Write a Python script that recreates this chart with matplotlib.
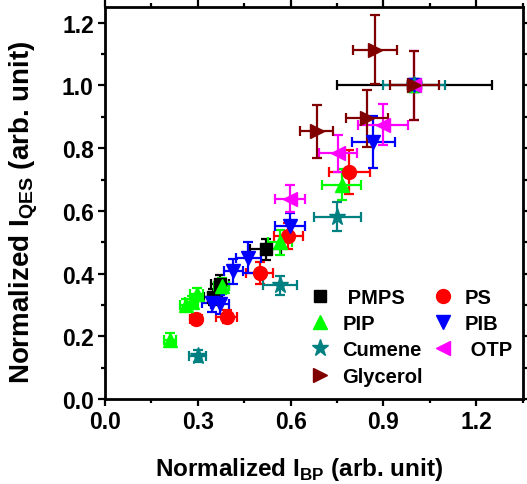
import matplotlib
matplotlib.use('Agg')
import matplotlib.pyplot as plt
from matplotlib.lines import Line2D
from matplotlib.ticker import MultipleLocator

plt.rcParams['font.family'] = ['Liberation Sans', 'DejaVu Sans']
plt.rcParams['font.weight'] = 'bold'
plt.rcParams['mathtext.fontset'] = 'custom'
plt.rcParams['mathtext.rm'] = 'Liberation Sans:bold'
plt.rcParams['mathtext.bf'] = 'Liberation Sans:bold'

# ------------------------------------------------------------------
# data: x, y, xerr, yerr per sample
pmps_x = [0.349, 0.372, 0.52, 1.0]
pmps_y = [0.325, 0.366, 0.477, 1.0]
pmps_xe = [0.03, 0.03, 0.05, 0.25]
pmps_ye = [0.025, 0.03, 0.035, 0.0]

ps_x = [0.294, 0.393, 0.50, 0.593, 0.79, 1.0]
ps_y = [0.255, 0.263, 0.403, 0.52, 0.723, 1.0]
ps_xe = [0.02, 0.033, 0.044, 0.048, 0.065, 0.02]
ps_ye = [0.015, 0.02, 0.035, 0.04, 0.07, 0.02]

pip_x = [0.21, 0.262, 0.28, 0.296, 0.377, 0.566, 0.765, 1.0]
pip_y = [0.19, 0.30, 0.31, 0.334, 0.36, 0.50, 0.684, 1.0]
pip_xe = [0.02, 0.02, 0.02, 0.02, 0.025, 0.04, 0.062, 0.02]
pip_ye = [0.02, 0.02, 0.02, 0.02, 0.025, 0.04, 0.05, 0.02]

pib_x = [0.345, 0.372, 0.415, 0.463, 0.598, 0.867, 1.0]
pib_y = [0.308, 0.302, 0.408, 0.451, 0.552, 0.82, 1.0]
pib_xe = [0.03, 0.03, 0.03, 0.04, 0.048, 0.07, 0.02]
pib_ye = [0.03, 0.03, 0.04, 0.05, 0.04, 0.082, 0.02]

cum_x = [0.30, 0.566, 0.751, 1.0]
cum_y = [0.138, 0.363, 0.581, 1.0]
cum_xe = [0.028, 0.055, 0.075, 0.10]
cum_ye = [0.02, 0.03, 0.046, 0.0]

otp_x = [0.598, 0.754, 0.899, 1.0]
otp_y = [0.639, 0.783, 0.875, 1.0]
otp_xe = [0.048, 0.062, 0.08, 0.02]
otp_ye = [0.043, 0.06, 0.066, 0.11]

gly_x = [0.684, 0.846, 0.873, 1.0]
gly_y = [0.854, 0.895, 1.113, 1.0]
gly_xe = [0.054, 0.068, 0.07, 0.08]
gly_ye = [0.085, 0.09, 0.11, 0.11]
# ------------------------------------------------------------------

fig = plt.figure(figsize=(5.27, 4.85), dpi=100)
ax = fig.add_axes([0.199, 0.175, 0.793, 0.8085])

series = [
    (pmps_x, pmps_y, pmps_xe, pmps_ye, 'black', 's', 9, ' PMPS'),
    (ps_x, ps_y, ps_xe, ps_ye, 'red', 'o', 10, 'PS'),
    (pip_x, pip_y, pip_xe, pip_ye, '#00ff00', '^', 10.5, 'PIP'),
    (pib_x, pib_y, pib_xe, pib_ye, 'blue', 'v', 10.5, 'PIB'),
    (cum_x, cum_y, cum_xe, cum_ye, '#008080', '*', 12.5, 'Cumene'),
    (otp_x, otp_y, otp_xe, otp_ye, 'magenta', '<', 10.5, ' OTP'),
    (gly_x, gly_y, gly_xe, gly_ye, '#800000', '>', 10.5, 'Glycerol'),
]

handles = {}
for x, y, xe, ye, c, m, ms, lab in series:
    ax.errorbar(x, y, xerr=xe, yerr=ye, fmt=m, color=c, ms=ms,
                elinewidth=1.6, capsize=3.5, capthick=1.6, mec=c)
    handles[lab] = Line2D([], [], ls='none', marker=m, color=c, ms=ms)

order = [' PMPS', 'PIP', 'Cumene', 'Glycerol', 'PS', 'PIB', ' OTP']
ax.legend([handles[k] for k in order], order, ncol=2, frameon=False,
          loc='lower right', bbox_to_anchor=(1.018, -0.012),
          fontsize=14.5, handlelength=1.0, handletextpad=0.6,
          columnspacing=0.5, labelspacing=0.36)

ax.set_xlim(0, 1.35)
ax.set_ylim(0, 1.25)
ax.xaxis.set_major_locator(MultipleLocator(0.3))
ax.xaxis.set_minor_locator(MultipleLocator(0.15))
ax.yaxis.set_major_locator(MultipleLocator(0.2))
ax.yaxis.set_minor_locator(MultipleLocator(0.1))
ax.set_xticklabels([f'{v:.1f}' for v in ax.get_xticks()])
ax.set_yticklabels([f'{v:.1f}' for v in ax.get_yticks()])

ax.tick_params(which='both', direction='out', top=True, right=True,
               labelsize=16.5, width=1.6)
ax.tick_params(which='major', length=5, pad=3)
ax.tick_params(which='minor', length=3)
for s in ax.spines.values():
    s.set_linewidth(2)

ax.set_xlabel(r'Normalized I$_{\rm BP}$ (arb. unit)', fontsize=17.5,
              fontweight='bold')
ax.set_ylabel(r'Normalized I$_{\rm QES}$ (arb. unit)', fontsize=20,
              fontweight='bold')
ax.xaxis.set_label_coords(0.464, -0.143)
ax.yaxis.set_label_coords(-0.155, 0.48)

fig.savefig('out.png', dpi=100)
